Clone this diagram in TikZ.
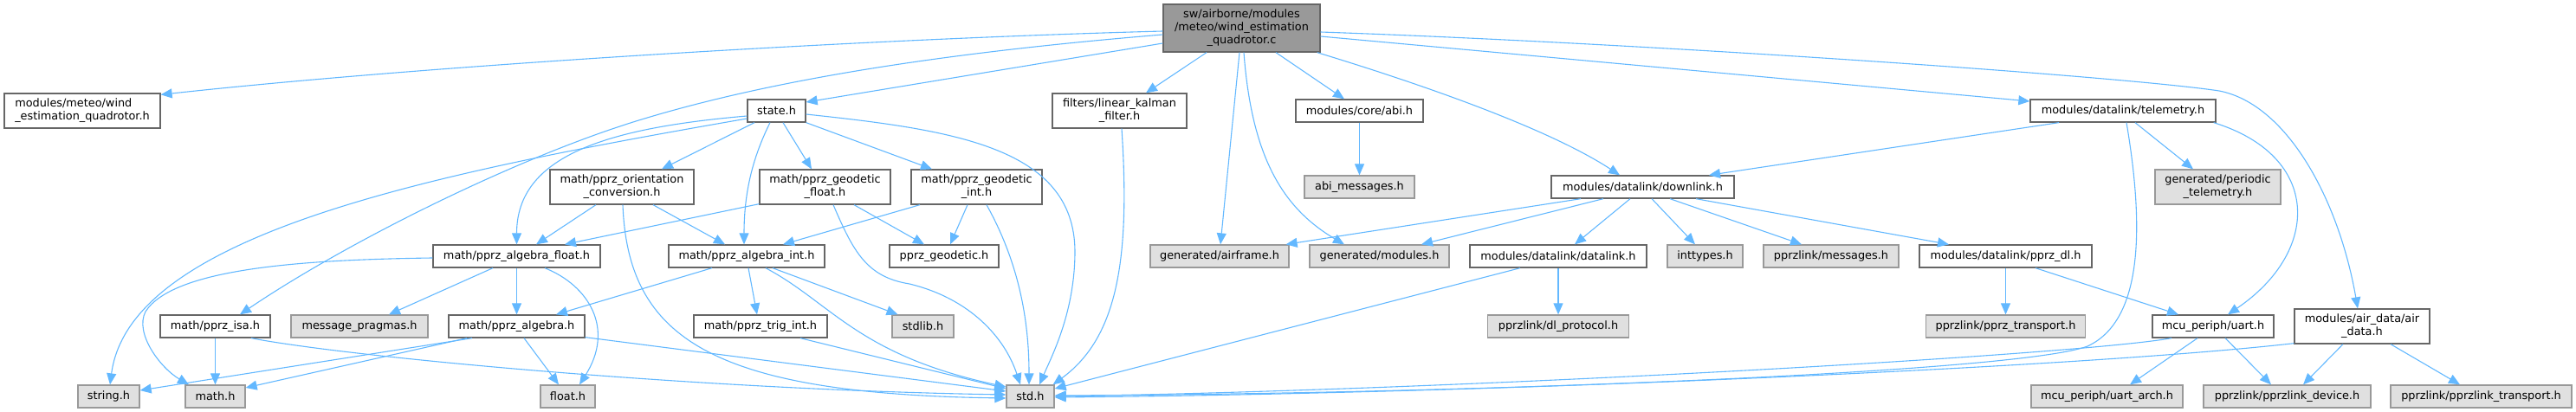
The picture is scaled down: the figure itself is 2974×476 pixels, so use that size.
\documentclass[tikz,border=0pt]{standalone}
\usepackage{fontspec}
\setmainfont{DejaVu Sans}
\usetikzlibrary{arrows.meta,calc}
\definecolor{edgec}{HTML}{63B8FF}
\definecolor{bdark}{HTML}{666666}
\definecolor{blight}{HTML}{999999}
\definecolor{gfill}{HTML}{E0E0E0}
\definecolor{tfill}{HTML}{999999}
\begin{document}
\begin{tikzpicture}[x=1pt,y=-1pt,
 box/.style={draw=bdark, fill=white, line width=1.3pt, inner sep=0pt, minimum height=26pt, align=center, font=\fontsize{12.85}{15}\selectfont},
 gbox/.style={box, draw=blight, fill=gfill},
 tbox/.style={box, fill=tfill},
 e/.style={draw=edgec, line width=1.1pt, -{Triangle[length=13pt,width=11pt]}}
]
\useasboundingbox (0,0) rectangle (2974,476);

% nodes
\node[tbox, minimum width=181pt, minimum height=55pt] (T) at (1433.5,32.5) {sw/airborne/modules\\/meteo/wind\_estimation\\\_quadrotor.c};
\node[box, minimum width=180pt, minimum height=40pt, align=left] (windh) at (95,128) {modules/meteo/wind\\\_estimation\_quadrotor.h};
\node[box, minimum width=67pt] (state) at (896.5,128) {state.h};
\node[box, minimum width=155pt, minimum height=40pt] (filters) at (1292.5,128) {filters/linear\_kalman\\\_filter.h};
\node[box, minimum width=147pt] (abi) at (1569.5,128) {modules/core/abi.h};
\node[box, minimum width=214pt] (telemetry) at (2451,128) {modules/datalink/telemetry.h};
\node[gbox, minimum width=127pt] (abimsg) at (1569.5,216) {abi\_messages.h};
\node[box, minimum width=211pt] (downlink) at (1896.5,216) {modules/datalink/downlink.h};
\node[box, minimum width=166pt, minimum height=40pt] (orient) at (718,216) {math/pprz\_orientation\\\_conversion.h};
\node[box, minimum width=151pt, minimum height=40pt] (geof) at (952.5,216) {math/pprz\_geodetic\\\_float.h};
\node[box, minimum width=151pt, minimum height=40pt] (geoi) at (1127.5,216) {math/pprz\_geodetic\\\_int.h};
\node[gbox, minimum width=145pt, minimum height=40pt] (periodic) at (2560.5,216) {generated/periodic\\\_telemetry.h};
\node[box, minimum width=193pt] (algf) at (596.5,296) {math/pprz\_algebra\_float.h};
\node[box, minimum width=180pt] (algi) at (862,296) {math/pprz\_algebra\_int.h};
\node[box, minimum width=126pt] (geod) at (1090,296) {pprz\_geodetic.h};
\node[gbox, minimum width=160pt] (airframe) at (1408,296) {generated/airframe.h};
\node[gbox, minimum width=161pt] (genmod) at (1592.5,296) {generated/modules.h};
\node[box, minimum width=204pt] (datalink) at (1799,296) {modules/datalink/datalink.h};
\node[gbox, minimum width=87pt] (inttypes) at (1968.5,296) {inttypes.h};
\node[gbox, minimum width=156pt] (messages) at (2114,296) {pprzlink/messages.h};
\node[box, minimum width=199pt] (pprzdl) at (2315.5,296) {modules/datalink/pprz\_dl.h};
\node[box, minimum width=127pt] (isa) at (248.5,377) {math/pprz\_isa.h};
\node[gbox, minimum width=158pt] (msgprag) at (415,377) {message\_pragmas.h};
\node[box, minimum width=157pt] (algebra) at (596.5,377) {math/pprz\_algebra.h};
\node[box, minimum width=154pt] (trig) at (878,377) {math/pprz\_trig\_int.h};
\node[gbox, minimum width=71pt] (stdlib) at (1065.5,377) {stdlib.h};
\node[gbox, minimum width=163pt] (dlproto) at (1799,377) {pprzlink/dl\_protocol.h};
\node[gbox, minimum width=184pt] (pprztr) at (2315.5,377) {pprzlink/pprz\_transport.h};
\node[box, minimum width=140pt] (uart) at (2555,377) {mcu\_periph/uart.h};
\node[box, minimum width=156pt, minimum height=40pt] (airdata) at (2727,377) {modules/air\_data/air\\\_data.h};
\node[gbox, minimum width=71pt] (string) at (125.5,458) {string.h};
\node[gbox, minimum width=69pt] (math) at (248.5,458) {math.h};
\node[gbox, minimum width=63pt] (float) at (655.5,458) {float.h};
\node[gbox, minimum width=55pt] (std) at (1189.5,458) {std.h};
\node[gbox, minimum width=175pt] (uartarch) at (2432.5,458) {mcu\_periph/uart\_arch.h};
\node[gbox, minimum width=193pt] (pldev) at (2640.5,458) {pprzlink/pprzlink\_device.h};
\node[gbox, minimum width=209pt] (pltr) at (2864.5,458) {pprzlink/pprzlink\_transport.h};

% edges from top node
\draw[e] ($(T.west)+(0,3.5)$) .. controls (1000,45) and (500,75) .. ($(windh.north east)+(0,2)$);
\draw[e] ($(T.west)+(0,17.5)$) -- ($(state.east)+(0,-10)$);
\draw[e] ($(T.west)+(0,7.5)$) .. controls (1100,60) and (900,90) .. (744,137) .. controls (600,180) and (400,280) .. ($(isa.north)+(28.5,0)$);
\draw[e] ($(T.south)+(-40.5,0)$) -- ($(filters.north)+(30.5,0)$);
\draw[e] ($(T.south)+(-2.5,0)$) -- ($(airframe.north)+(1,0)$);
\draw[e] ($(T.south)+(2.5,0)$) .. controls (1445,180) and (1480,240) .. ($(genmod.north)+(-40.5,0)$);
\draw[e] ($(T.south)+(39.5,0)$) -- ($(abi.north)+(-17.5,0)$);
\draw[e] ($(T.south east)+(-4,0)$) .. controls (1650,100) and (1790,150) .. ($(downlink.north)+(-26.5,0)$);
\draw[e] ($(T.east)+(0,9.5)$) -- ($(telemetry.west)+(0,-11)$);
\draw[e] ($(T.east)+(0,4.5)$) .. controls (1900,50) and (2450,88) .. (2562,105) .. controls (2640,120) and (2700,230) .. ($(airdata.north)+(-5,0)$);

% state.h
\draw[e] ($(state.south)+(-25.5,0)$) -- ($(orient.north)+(46,0)$);
\draw[e] ($(state.west)+(0,6)$) .. controls (700,148) and (596.5,180) .. (algf.north);
\draw[e] ($(state.west)+(0,9)$) .. controls (500,200) and (150,270) .. ($(string.north)+(1.5,0)$);
\draw[e] ($(state.south)+(-7.5,0)$) .. controls (870,180) and (859,220) .. ($(algi.north)+(-3,0)$);
\draw[e] ($(state.south)+(7.5,0)$) -- ($(geof.north)+(-15.5,0)$);
\draw[e] (state.south east) -- ($(geoi.north)+(-51.5,0)$);
\draw[e] ($(state.east)+(0,4)$) .. controls (1100,150) and (1240,170) .. (1241,290) .. controls (1241,360) and (1215,410) .. ($(std.north)+(10.5,0)$);

% orientation
\draw[e] ($(orient.south)+(-30,0)$) -- ($(algf.north)+(22.5,0)$);
\draw[e] ($(orient.south)+(36,0)$) -- ($(algi.north)+(-25,0)$);
\draw[e] ($(orient.south)+(1,0)$) .. controls (725,390) and (820,455) .. ($(std.west)+(0,2)$);

% geodetic float
\draw[e] ($(geof.south west)+(0,-1)$) -- ($(algf.north)+(55.5,0)$);
\draw[e] ($(geof.south)+(33.5,0)$) -- ($(geod.north)+(-23,0)$);
\draw[e] ($(geof.south)+(9.5,0)$) .. controls (985,290) and (1000,320) .. (1050,328) .. controls (1120,345) and (1160,390) .. ($(std.north)+(-11.5,0)$);

% geodetic int
\draw[e] ($(geoi.south)+(-65.5,0)$) -- ($(algi.north)+(42,0)$);
\draw[e] ($(geoi.south)+(-10.5,0)$) -- ($(geod.north)+(7,0)$);
\draw[e] ($(geoi.south)+(11.5,0)$) .. controls (1180,310) and (1188,380) .. ($(std.north)+(-1.5,0)$);

% filters
\draw[e] ($(filters.south)+(2.5,0)$) .. controls (1305,300) and (1290,390) .. ($(std.north east)+(-2,0)$);

% algebra float
\draw[e] ($(algf.west)+(0,2)$) .. controls (350,300) and (200,310) .. (168,360) .. controls (155,385) and (185,425) .. ($(math.north)+(-30.5,0)$);
\draw[e] ($(algf.south)+(-27.5,0)$) -- ($(msgprag.north)+(34,0)$);
\draw[e] (algf.south) -- (algebra.north);
\draw[e] ($(algf.south)+(32.5,0)$) .. controls (680,330) and (710,380) .. ($(float.north)+(13.5,0)$);

% algebra
\draw[e] ($(algebra.south)+(-51.5,0)$) -- ($(string.east)+(0,-7)$);
\draw[e] ($(algebra.south)+(-57.5,0)$) -- ($(math.east)+(0,-10)$);
\draw[e] ($(algebra.south)+(8.5,0)$) -- ($(float.north)+(-10.5,0)$);
\draw[e] ($(algebra.south east)+(0,-1)$) -- ($(std.west)+(0,-6)$);

% isa
\draw[e] (isa.south) -- (math.north);
\draw[e] ($(isa.south)+(41.5,0)$) .. controls (400,412) and (800,450) .. ($(std.west)+(0,-2)$);

% algebra int
\draw[e] ($(algi.south)+(-40,0)$) -- ($(algebra.north)+(45.5,0)$);
\draw[e] ($(algi.south)+(2,0)$) -- ($(trig.north)+(-4,0)$);
\draw[e] ($(algi.south)+(30,0)$) -- ($(stdlib.north)+(-29,0)$);
\draw[e] ($(algi.south)+(22,0)$) .. controls (960,350) and (990,410) .. ($(std.west)+(0,-11)$);

% trig
\draw[e] ($(trig.south)+(46,0)$) -- ($(std.west)+(0,-9)$);

% abi
\draw[e] (abi.south) -- (abimsg.north);

% downlink
\draw[e] ($(downlink.south)+(-71.5,0)$) -- ($(airframe.north east)+(-4,0)$);
\draw[e] ($(downlink.south)+(-45.5,0)$) -- ($(genmod.north)+(48.5,0)$);
\draw[e] ($(downlink.south)+(-14.5,0)$) -- ($(datalink.north)+(19,0)$);
\draw[e] ($(downlink.south)+(10.5,0)$) -- ($(inttypes.north)+(-11.5,0)$);
\draw[e] ($(downlink.south)+(31.5,0)$) -- ($(messages.north)+(-34,0)$);
\draw[e] ($(downlink.south)+(61.5,0)$) -- ($(pprzdl.north)+(-65.5,0)$);

% telemetry
\draw[e] ($(telemetry.south)+(-74,0)$) -- ($(downlink.north)+(76.5,0)$);
\draw[e] ($(telemetry.south)+(14,0)$) -- ($(periodic.north)+(-28.5,0)$);
\draw[e] ($(telemetry.south)+(4,0)$) .. controls (2475,260) and (2475,370) .. (2410,400) .. controls (2330,430) and (1700,455) .. ($(std.east)+(0,-1)$);
\draw[e] ($(telemetry.south east)+(-3,0)$) .. controls (2680,180) and (2680,290) .. ($(uart.north)+(17,0)$);

% datalink
\draw[e] (datalink.south) -- (dlproto.north);
\draw[e] ($(datalink.south)+(-44,0)$) -- ($(std.east)+(0,-9)$);

% pprz_dl
\draw[e] (pprzdl.south) -- (pprztr.north);
\draw[e] ($(pprzdl.south)+(34.5,0)$) -- ($(uart.north)+(-40,0)$);

% uart
\draw[e] ($(uart.south)+(-48,0)$) .. controls (2400,410) and (1700,450) .. (std.east);
\draw[e] ($(uart.south)+(-18,0)$) -- ($(uartarch.north)+(26.5,0)$);
\draw[e] ($(uart.south)+(14,0)$) -- ($(pldev.north)+(-18.5,0)$);

% air data
\draw[e] ($(airdata.south)+(-22,0)$) -- ($(pldev.north)+(18.5,0)$);
\draw[e] ($(airdata.south)+(33,0)$) -- ($(pltr.north)+(-24.5,0)$);
\draw[e] ($(airdata.south west)+(0,-1)$) .. controls (2400,425) and (1700,455) .. ($(std.east)+(0,1)$);
\end{tikzpicture}
\end{document}
